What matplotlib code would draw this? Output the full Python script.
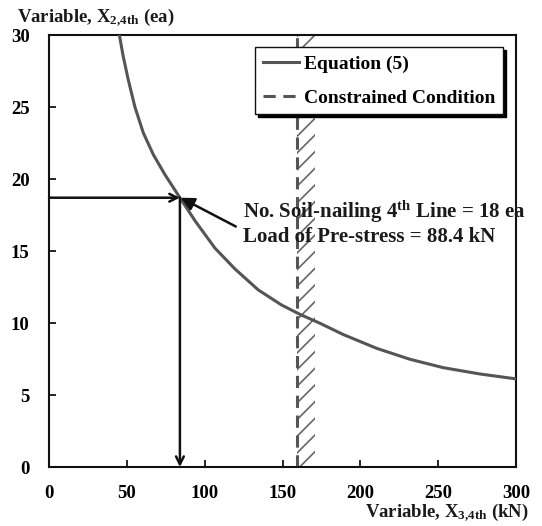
import matplotlib
matplotlib.use("Agg")
import matplotlib.pyplot as plt

# Data
curve_x = [45.2, 47.7, 50.9, 55.2, 60.6, 67.0, 74.5, 84.1, 93.8, 106.6, 119.5,
           134.4, 149.4, 161.2, 174.1, 189.0, 210.5, 231.9, 253.2, 276.8, 300.0]
curve_y = [30.0, 28.5, 26.9, 25.0, 23.2, 21.7, 20.3, 18.7, 17.1, 15.2, 13.75,
           12.3, 11.25, 10.6, 9.98, 9.2, 8.24, 7.48, 6.90, 6.46, 6.12]
constraint_x = 159.0
hatch_width = 12.0
opt_x = 84.1
opt_y = 18.7
x_ticks = [0, 50, 100, 150, 200, 250, 300]
y_ticks = [0, 5, 10, 15, 20, 25, 30]
annot_lines = ["No. Soil-nailing 4$^{\\mathbf{th}}$ Line = 18 ea",
               "Load of Pre-stress = 88.4 kN"]
y_label = "Variable, X$_{2{,}4th}$ (ea)"
x_label = "Variable, X$_{3{,}4th}$ (kN)"

plt.rcParams['font.family'] = ['Liberation Serif', 'DejaVu Serif']
plt.rcParams['font.weight'] = 'bold'
plt.rcParams['mathtext.fontset'] = 'custom'
plt.rcParams['mathtext.rm'] = 'Liberation Serif:bold'
plt.rcParams['mathtext.bf'] = 'Liberation Serif:bold'
plt.rcParams['mathtext.it'] = 'Liberation Serif:bold'
plt.rcParams['hatch.linewidth'] = 1.2

fig = plt.figure(figsize=(5.42, 5.26), dpi=100)
ax = fig.add_axes([49/542, 1-467/526, 467/542, 432/526])

curve_col = '#555555'
ax.plot(curve_x, curve_y, color=curve_col, lw=2.2, label='Equation (5)', zorder=3,
        solid_joinstyle='round')

# hatched constrained zone
ax.fill_betweenx([0, 30], constraint_x, constraint_x + hatch_width,
                 facecolor='none', edgecolor='#666666', hatch='//', lw=0, zorder=1)
ax.axvline(constraint_x, color=curve_col, lw=2.2, ls=(0, (4, 2.5)),
           label='Constrained Condition', zorder=2)

# arrows
ax.annotate('', xy=(opt_x, opt_y), xytext=(0, opt_y),
            arrowprops=dict(arrowstyle='->', color='#111111', lw=1.8,
                            shrinkA=0, shrinkB=0, mutation_scale=14), zorder=4)
ax.annotate('', xy=(opt_x, 0), xytext=(opt_x, opt_y),
            arrowprops=dict(arrowstyle='->', color='#111111', lw=1.8,
                            shrinkA=0, shrinkB=0, mutation_scale=14), zorder=4)
ax.annotate('', xy=(opt_x + 0.5, opt_y), xytext=(120.0, 16.7),
            arrowprops=dict(arrowstyle='-|>', color='#111111', lw=1.8,
                            shrinkA=0, shrinkB=0, mutation_scale=20), zorder=4)

ax.text(124.6, 17.75, annot_lines[0], fontsize=15, fontweight='bold',
        color='#1a1a1a', va='center', ha='left', zorder=5)
ax.text(124.6, 15.95, annot_lines[1], fontsize=15, fontweight='bold',
        color='#1a1a1a', va='center', ha='left', zorder=5)

ax.set_xlim(0, 300)
ax.set_ylim(0, 30)
ax.set_xticks(x_ticks)
ax.set_yticks(y_ticks)
ax.tick_params(direction='in', length=5, width=1.2, labelsize=13.5)
ax.tick_params(axis='x', pad=13)
ax.tick_params(axis='y', pad=14)
for lab in ax.get_xticklabels() + ax.get_yticklabels():
    lab.set_fontweight('bold')
for s in ax.spines.values():
    s.set_linewidth(1.5)
    s.set_color('#111111')

leg = ax.legend(loc='upper right', bbox_to_anchor=(0.972, 0.972), borderaxespad=0,
                fancybox=False, edgecolor='#111111', framealpha=1,
                shadow={'color': 'black', 'alpha': 1},
                prop={'weight': 'bold', 'size': 14},
                handlelength=1.85, handletextpad=0.25, labelspacing=0.85,
                borderpad=0.4)
leg.get_frame().set_linewidth(1.0)

fig.text(17/542, 1-18/526, y_label, fontsize=13.5,
         fontweight='bold', ha='left', va='center', color='#1a1a1a')
fig.text(529/542, 1-513/526, x_label, fontsize=13.5,
         fontweight='bold', ha='right', va='center', color='#1a1a1a')

fig.savefig('out.png', dpi=100)
